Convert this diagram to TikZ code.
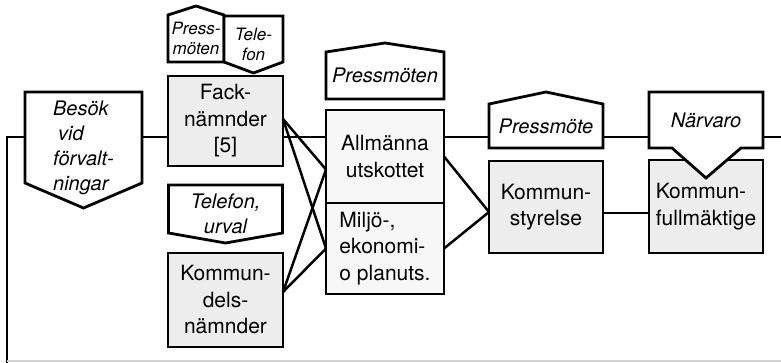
\documentclass[tikz,border=0pt]{standalone}
\usepackage{fontspec}
\setmainfont{TeX Gyre Heros}
\usepackage{tikz}
\usetikzlibrary{positioning}
\pgfdeclarelayer{back}
\pgfsetlayers{back,main}

\begin{document}
\begin{tikzpicture}[
  x=1pt, y=-1pt,
  unit/.style={rectangle, draw=black, fill=gray!14, line width=2.8pt, inner sep=0pt, outer sep=0pt, align=center, minimum width=115pt, font=\fontsize{21}{26.5}\selectfont},
  tag/.style={rectangle, inner sep=0pt, outer sep=0pt, align=center, font=\fontsize{20}{25}\selectfont\itshape},
  smalltag/.style={tag, font=\fontsize{17}{20}\selectfont\itshape},
  rim/.style={draw=black, fill=white, line width=2.8pt},
  link/.style={draw=black, line width=2.5pt}
]
\useasboundingbox (0,0) rectangle (781,363);

% the bodies
\begin{pgfonlayer}{back}
\node[unit, minimum height=90pt] (fack) at (225.5,121) {Fack-\\nämnder\\{[5]}};
\node[unit, minimum height=94pt, below=87pt of fack] (kdn) {Kommun-\\dels-\\nämnder};
\node[unit, fill=gray!6, minimum width=118pt, minimum height=93pt] (allm) at (385,156.5) {Allmänna\\utskottet};
\node[unit, fill=gray!6, minimum width=118pt, minimum height=91pt, align=left, below=0pt of allm] (milj) {Miljö-,\\ekonomi-\\o planuts.};
\node[unit, minimum width=114pt, minimum height=92pt] (ks) at (546,207) {Kommun-\\styrelse};
\node[unit, minimum width=114pt, minimum height=93pt, align=left] (kf) at (706,206.5) {Kommun-\\fullmäktige};
\end{pgfonlayer}

% the channels
\node[smalltag, minimum width=56pt, minimum height=47pt] (prs) at (196,38.5) {Press-\\möten};
\node[smalltag, minimum width=59pt, minimum height=57pt] (tfn) at (253.5,44.5) {Tele-\\fon};
\node[tag, minimum width=117pt, minimum height=116pt, align=left] (besok) at (83.5,148) {Besök\\\hspace*{5pt}vid\\förvalt-\\ningar};
\node[tag, minimum width=114pt, minimum height=58pt, below=19pt of fack] (tfu) {Telefon,\\urval};
\node[tag, minimum width=118pt, minimum height=47pt, above=11pt of allm] (pmn) {Pressmöten};
\node[tag, minimum width=114pt, minimum height=44pt, above=13pt of ks] (pm) {Pressmöte};
\node[tag, minimum width=114pt, minimum height=56pt, above=12pt of kf] (narv) {Närvaro};

\begin{pgfonlayer}{back}
\draw[rim] (prs.south west) -- (prs.north west) -- ([yshift=9pt]prs.north) -- (prs.north east) -- (prs.south east) -- cycle;
\draw[rim] (tfn.north west) -- (tfn.north east) -- ([yshift=11pt]tfn.south east) -- (tfn.south) -- ([yshift=11pt]tfn.south west) -- cycle;
\draw[rim] ([yshift=-2pt]besok.north west) -- ([yshift=-2pt]besok.north east) -- ([yshift=23pt]besok.south east) -- ([yshift=-2pt]besok.south) -- ([yshift=23pt]besok.south west) -- cycle;
\draw[rim] (tfu.north west) -- (tfu.north east) -- ([yshift=10pt]tfu.south east) -- (tfu.south) -- ([yshift=10pt]tfu.south west) -- cycle;
\draw[rim] (pmn.south west) -- (pmn.north west) -- ([yshift=9pt]pmn.north) -- (pmn.north east) -- (pmn.south east) -- cycle;
\draw[rim] (pm.south west) -- (pm.north west) -- ([yshift=12pt]pm.north) -- (pm.north east) -- (pm.south east) -- cycle;
\draw[rim] (narv.south west) -- (narv.north west) -- (narv.north east) -- (narv.south east) -- ([xshift=35pt]narv.south) -- ([yshift=-30pt]narv.south) -- ([xshift=-34pt]narv.south) -- cycle;
\end{pgfonlayer}

% the lines
\coordinate (lt) at (7,137);
\coordinate (lb) at (7,363);
\coordinate (rt) at (781,137);
\coordinate (bl) at (7,361);
\coordinate (br) at (781,361);
\draw[link] (besok.west |- lt) -- (lt) -- (lb);
\draw[gray!35, line width=1.2pt] (bl) -- (br);
\draw[link] (besok.east |- lt) -- (fack.west |- lt);
\draw[link] (fack.east |- lt) -- (allm.west |- lt);
\draw[link] (allm.east |- lt) -- (pm.west |- lt);
\draw[link] (pm.east |- lt) -- (narv.west |- lt);
\draw[link] (narv.east |- lt) -- (rt);
\draw[link] ([yshift=2pt]fack.east) -- ([yshift=-13pt]allm.west);
\draw[link] ([yshift=2pt]fack.east) -- (milj.west);
\draw[link] ([yshift=8pt]kdn.east) -- ([yshift=-13pt]allm.west);
\draw[link] ([yshift=8pt]kdn.east) -- (milj.west);
\draw[link] (allm.east) -- ([yshift=-5pt]ks.west);
\draw[link] (milj.east) -- ([yshift=-5pt]ks.west);
\draw[link] ([yshift=-6pt]ks.east) -- ([yshift=-6pt]ks.east -| kf.west);
\end{tikzpicture}
\end{document}
